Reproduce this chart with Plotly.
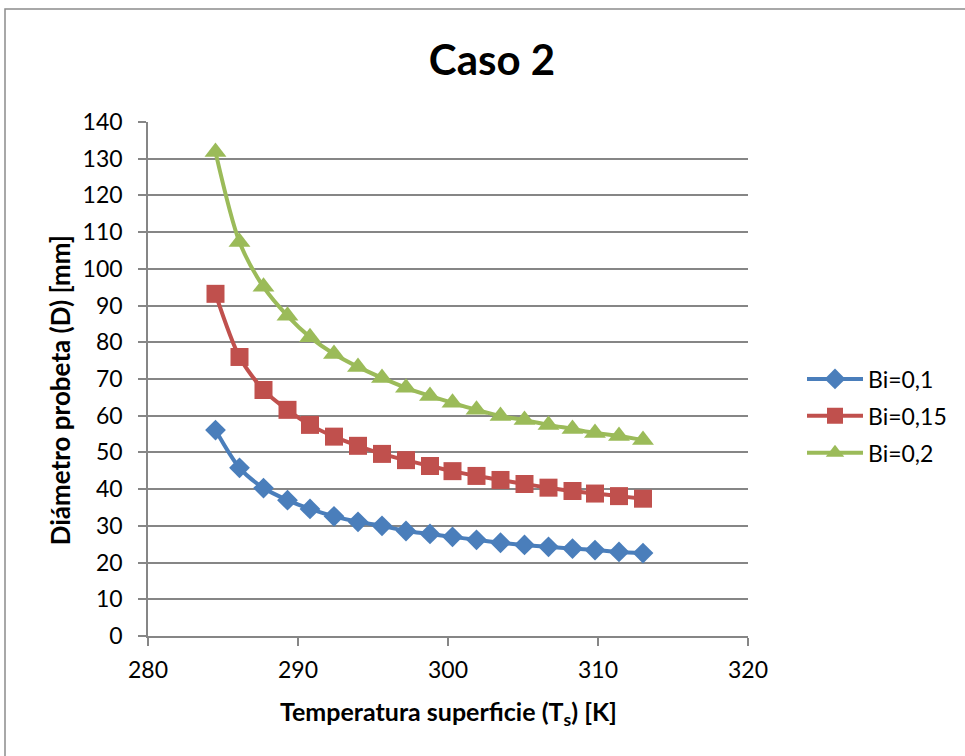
import plotly.graph_objects as go

# Surface temperature (K)
temperatura = [284.5, 286.1, 287.7, 289.3, 290.8, 292.4, 294.0, 295.6, 297.2, 298.8,
               300.3, 301.9, 303.5, 305.1, 306.7, 308.3, 309.8, 311.4, 313.0]

# Specimen diameter (mm) for each Biot number
d_bi_01 = [56.1, 45.8, 40.3, 37.0, 34.6, 32.6, 31.1, 30.0, 28.6, 27.8,
           27.0, 26.2, 25.4, 24.8, 24.3, 23.8, 23.4, 22.9, 22.6]
d_bi_015 = [93.2, 76.0, 67.0, 61.6, 57.5, 54.3, 51.8, 49.6, 47.9, 46.3,
            44.9, 43.6, 42.5, 41.4, 40.4, 39.5, 38.8, 38.1, 37.4]
d_bi_02 = [131.8, 107.3, 95.1, 87.2, 81.4, 76.8, 73.3, 70.3, 67.6, 65.4,
           63.5, 61.6, 59.9, 58.8, 57.5, 56.4, 55.3, 54.5, 53.4]

series = [
    ("Bi=0,1", d_bi_01, "#4A7EBB", "diamond", 16),
    ("Bi=0,15", d_bi_015, "#C0504D", "square", 18),
    ("Bi=0,2", d_bi_02, "#9BBB59", "triangle-up", 19),
]

FONT = "Lato"

fig = go.Figure()
for name, vals, color, symbol, msize in series:
    fig.add_trace(go.Scatter(
        x=temperatura, y=vals, name=name, mode="lines+markers",
        legendgroup=name,
        line=dict(color=color, width=4, shape="spline", smoothing=0.8),
        marker=dict(symbol=symbol, size=msize, color=color),
    ))

grid = "#868686"
fig.update_layout(
    width=965, height=756,
    margin=dict(l=148, r=217, t=122, b=120),
    paper_bgcolor="white", plot_bgcolor="white",
    font=dict(family=FONT, color="black"),
    title=dict(text="<b>Caso 2</b>", x=492 / 965, xanchor="center",
               y=1 - 60 / 756, yanchor="middle", yref="container",
               font=dict(size=42, family=FONT, color="black")),
    legend=dict(x=(802 - 148) / 600, xanchor="left", y=0.428, yanchor="middle",
                font=dict(size=23, family=FONT), itemwidth=56,
                bgcolor="rgba(0,0,0,0)", tracegroupgap=4),
    showlegend=True,
)
fig.update_xaxes(range=[280, 320], dtick=10, tick0=280,
                 showgrid=False, zeroline=False,
                 showline=True, linecolor=grid, linewidth=1.5,
                 ticks="outside", ticklen=8, tickcolor=grid, tickwidth=1.5,
                 ticklabelstandoff=5,
                 tickfont=dict(size=23, family=FONT))
fig.update_yaxes(range=[0, 140], dtick=10, tick0=0,
                 showgrid=True, gridcolor=grid, gridwidth=1.5, zeroline=False,
                 showline=True, linecolor=grid, linewidth=1.5,
                 ticks="outside", ticklen=8, tickcolor=grid, tickwidth=1.5,
                 ticklabelstandoff=11,
                 tickfont=dict(size=23, family=FONT))

fig.add_annotation(text="<b>Temperatura superficie (T<sub>s</sub>) [K]</b>",
                   xref="paper", yref="paper", x=0.5, y=-0.15,
                   xanchor="center", yanchor="middle", showarrow=False,
                   font=dict(size=25, family=FONT))
fig.add_annotation(text="<b>Diámetro probeta (D) [mm]</b>",
                   xref="paper", yref="paper", x=-0.1467, y=0.478,
                   xanchor="center", yanchor="middle", textangle=-90,
                   showarrow=False, font=dict(size=26, family=FONT))

# Chart frame
fig.add_shape(type="rect", xref="paper", yref="paper",
              x0=(5 - 148) / 600, x1=1.6, y0=-0.5, y1=(636 - 9) / 514,
              line=dict(color="#8C8C8C", width=1.5), fillcolor="rgba(0,0,0,0)",
              layer="below")

fig.write_html("out.html")
